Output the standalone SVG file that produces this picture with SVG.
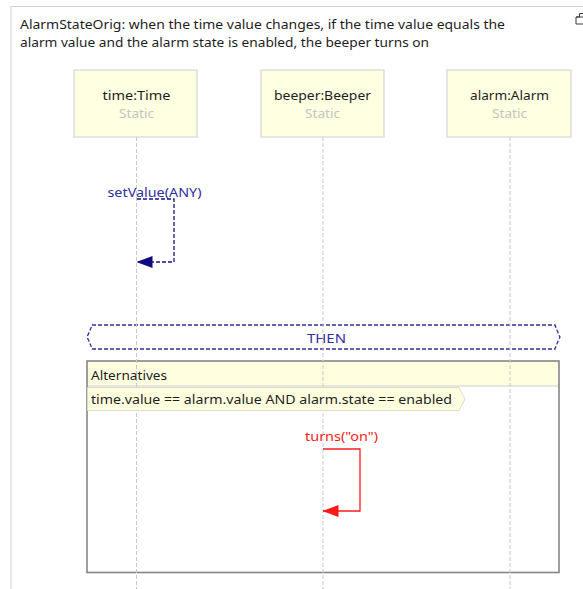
<svg xmlns="http://www.w3.org/2000/svg" width="583" height="589" viewBox="0 0 583 589">
  <style>
    text { font-family: "Noto Sans", "Open Sans", sans-serif; font-size: 13px; fill: #1e1e1e; }
    .obj { fill: #ffffe1; stroke: #d6d6d6; stroke-width: 1.2; }
    .stereo { fill: #c4c4c4; }
    .life { stroke: #c8c8c8; stroke-width: 1; stroke-dasharray: 4 2; fill: none; }
    .blue { fill: #2f2f9f; }
    .red { fill: #ff1a1a; }
    .msgBlue { stroke: #14148a; stroke-width: 1.3; stroke-dasharray: 4 2; fill: none; }
    .msgRed { stroke: #ff1a1a; stroke-width: 1.3; fill: none; }
  </style>
  <defs>
    <marker id="headBlue" viewBox="0 0 16 12" refX="15.5" refY="6" markerWidth="16" markerHeight="12" markerUnits="userSpaceOnUse" orient="auto">
      <path d="M0,0 L16,6 L0,12 Z" fill="#0c0c80"/>
    </marker>
    <marker id="headRed" viewBox="0 0 16 12" refX="15.5" refY="6" markerWidth="16" markerHeight="12" markerUnits="userSpaceOnUse" orient="auto">
      <path d="M0,0 L16,6 L0,12 Z" fill="#ff1a1a"/>
    </marker>
  </defs>

  <rect x="0" y="0" width="583" height="589" fill="#ffffff"/>

  <!-- outer frame -->
  <path d="M11,589 L11,6.5 L583,6.5" fill="none" stroke="#cfcfcf" stroke-width="1"/>
  <!-- corner icon -->
  <path d="M576,24 L576,17 L579.5,17 L579.5,13.5 L583,13.5 M576,24 L583,24 M576,17 L583,17" fill="none" stroke="#3a3a3a" stroke-width="1"/>

  <!-- title -->
  <text x="20" y="29" textLength="485" lengthAdjust="spacingAndGlyphs">AlarmStateOrig: when the time value changes, if the time value equals the</text>
  <text x="20" y="47" textLength="409" lengthAdjust="spacingAndGlyphs">alarm value and the alarm state is enabled, the beeper turns on</text>

  <!-- alternatives fragment -->
  <g id="alternatives">
    <rect x="87" y="361" width="472" height="25" fill="#ffffdf"/>
    <line x1="87" y1="386" x2="559" y2="386" stroke="#cfcfcf" stroke-width="1"/>
    <rect x="87" y="361" width="472" height="211.5" fill="none" stroke="#858585" stroke-width="1.6"/>
  </g>

  <!-- THEN separator -->
  <g id="then">
    <path d="M92,325 L555,325 Q557,331 560,337 Q557,343 555,349 L92,349 Q90,343 87,337 Q90,331 92,325 Z" fill="none" stroke="#2f2f9f" stroke-width="1.3" stroke-dasharray="4 2"/>
    <text x="326.5" y="343" text-anchor="middle" class="blue" textLength="39" lengthAdjust="spacingAndGlyphs">THEN</text>
  </g>

  <!-- lifelines -->
  <g id="lifelines">
    <line class="life" x1="136.5" y1="137" x2="136.5" y2="589"/>
    <line class="life" x1="323" y1="137" x2="323" y2="589"/>
    <line class="life" x1="510" y1="137" x2="510" y2="589"/>
  </g>

  <!-- lifeline heads -->
  <g id="time">
    <rect class="obj" x="74" y="70" width="123" height="67"/>
    <text x="136.5" y="100" text-anchor="middle" textLength="68" lengthAdjust="spacingAndGlyphs">time:Time</text>
    <text x="136.5" y="118" text-anchor="middle" class="stereo" textLength="35" lengthAdjust="spacingAndGlyphs">Static</text>
  </g>
  <g id="beeper">
    <rect class="obj" x="261" y="70" width="123" height="67"/>
    <text x="322.5" y="100" text-anchor="middle" textLength="97" lengthAdjust="spacingAndGlyphs">beeper:Beeper</text>
    <text x="322.5" y="118" text-anchor="middle" class="stereo" textLength="35" lengthAdjust="spacingAndGlyphs">Static</text>
  </g>
  <g id="alarm">
    <rect class="obj" x="447" y="70" width="124" height="67"/>
    <text x="509.5" y="100" text-anchor="middle" textLength="79" lengthAdjust="spacingAndGlyphs">alarm:Alarm</text>
    <text x="509.5" y="118" text-anchor="middle" class="stereo" textLength="35" lengthAdjust="spacingAndGlyphs">Static</text>
  </g>

  <!-- guard label -->
  <g id="guard">
    <path d="M87.5,387.5 L459,387.5 L465,399 L459,410.5 L87.5,410.5 Z" fill="#ffffdf" stroke="#dcdcc4" stroke-width="1"/>
    <text x="91" y="404" textLength="361" lengthAdjust="spacingAndGlyphs">time.value == alarm.value AND alarm.state == enabled</text>
    <text x="91" y="380" textLength="76" lengthAdjust="spacingAndGlyphs">Alternatives</text>
  </g>

  <!-- messages -->
  <g id="connectors">
    <path class="msgBlue" d="M137,199 L174,199 L174,262 L137,262" marker-end="url(#headBlue)"/>
    <path class="msgRed" d="M323,449 L360,449 L360,511 L323,511" marker-end="url(#headRed)"/>
  </g>
  <text x="107.5" y="197" class="blue" textLength="94" lengthAdjust="spacingAndGlyphs">setValue(ANY)</text>
  <text x="305" y="441" class="red" textLength="73" lengthAdjust="spacingAndGlyphs">turns("on")</text>
</svg>
